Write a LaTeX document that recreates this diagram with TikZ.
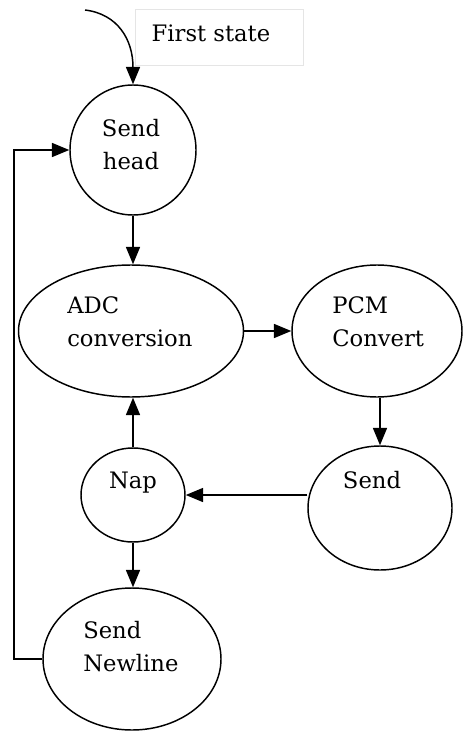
\documentclass[tikz,border=0pt]{standalone}
\usepackage{fontspec}
\setmainfont{DejaVu Serif}
\usetikzlibrary{shapes.geometric,arrows.meta}
\begin{document}
\begin{tikzpicture}[x=0.75pt,y=-0.75pt,
  state/.style={ellipse,draw,line width=1.1pt,inner sep=0pt},
  lbl/.style={font=\fontsize{17}{24.75}\selectfont,align=left,inner sep=0pt},
  arr/.style={line width=1.1pt,-{Triangle[length=13pt,width=10.5pt]}}]
\useasboundingbox (0,0) rectangle (462,731);
% start marker box
\node[draw=black!10,line width=0.5pt,minimum width=126pt,minimum height=42pt,inner sep=0pt] (fsbox) at (219,37) {};
\node[lbl] (fstext) at (211,33) {First state};
% states
\node[state,minimum width=94.5pt,minimum height=97.5pt] (sh) at (133,150) {};
\node[state,minimum width=168.75pt,minimum height=99pt] (adc) at (131,331) {};
\node[state,minimum width=127.5pt,minimum height=99pt] (pcm) at (377,331) {};
\node[state,minimum width=108pt,minimum height=93pt] (sd) at (380,508) {};
\node[state,minimum width=78pt,minimum height=70.5pt] (np) at (133,495) {};
\node[state,minimum width=133.5pt,minimum height=106.5pt] (nl) at (132,659) {};
% state labels
\node[lbl,align=center] (shtxt) at (131,145) {Send\\head};
\node[lbl,anchor=west] (adctxt) at (67,322) {ADC\\conversion};
\node[lbl,anchor=west] (pcmtxt) at (332,322) {PCM\\Convert};
\node[lbl] (sdtxt) at (372,480) {Send};
\node[lbl] (nptxt) at (133,483) {Nap};
\node[lbl,anchor=west] (nltxt) at (83,647) {Send\\Newline};
% transitions
\coordinate (start) at (85,10);
\coordinate (loopx) at (14,0);
\draw[arr] (start) .. controls (118,14) and (133,40) .. (sh.north);
\draw[arr] (sh.south) -- (sh.south |- adc.north);
\draw[arr] (adc.east) -- (adc.east -| pcm.west);
\draw[arr] (pcm.south -| sd.north) -- (sd.north);
\draw[arr] (np.east -| sd.west) -- (np.east);
\draw[arr] (np.north) -- (np.north |- adc.south);
\draw[arr] (np.south) -- (np.south |- nl.north);
\draw[arr] (nl.west) -- (nl.west -| loopx) |- (sh.west);
\end{tikzpicture}
\end{document}
